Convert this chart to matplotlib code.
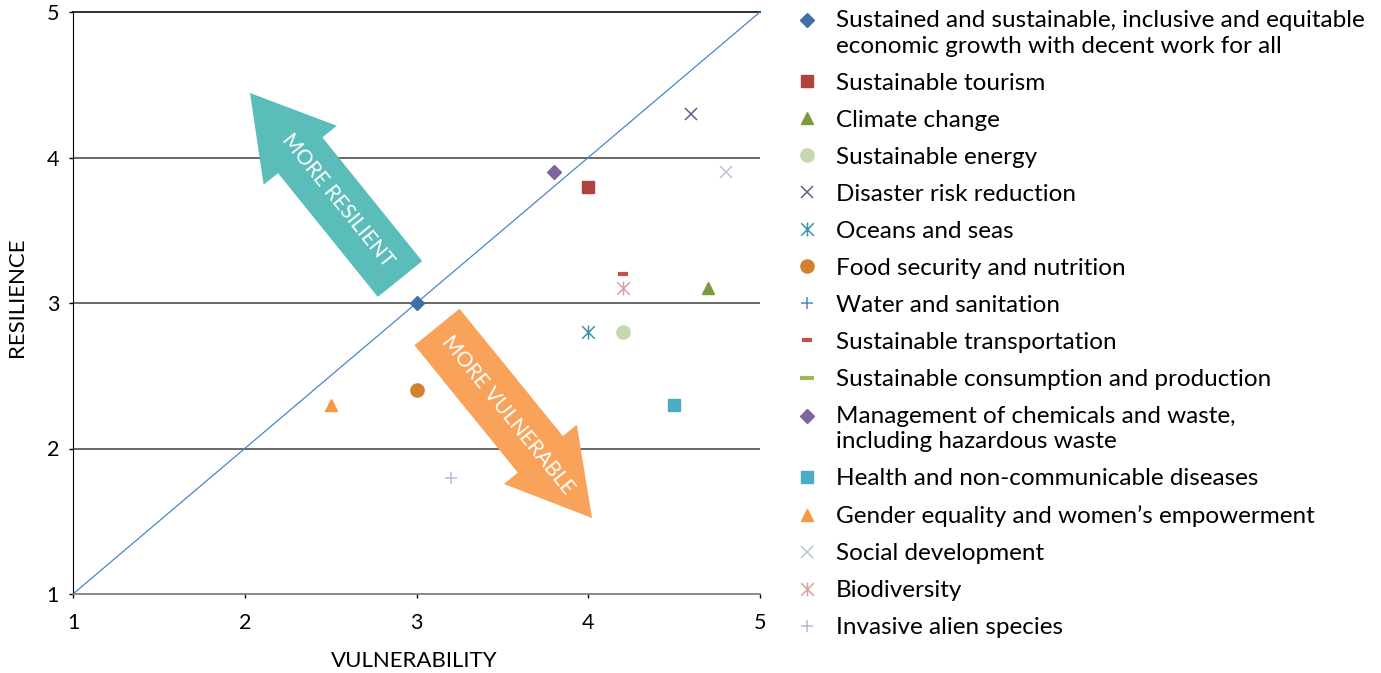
import matplotlib.pyplot as plt
from matplotlib.patches import Polygon
from matplotlib.path import Path
from matplotlib.legend_handler import HandlerLine2D
from matplotlib.transforms import Affine2D
import numpy as np

plt.rcParams['font.family'] = ['Lato', 'DejaVu Sans']

# Дані: (вразливість, стійкість) для кожної теми
labels = [
    "Sustained and sustainable, inclusive and equitable\neconomic growth with decent work for all",
    "Sustainable tourism",
    "Climate change",
    "Sustainable energy",
    "Disaster risk reduction",
    "Oceans and seas",
    "Food security and nutrition",
    "Water and sanitation",
    "Sustainable transportation",
    "Sustainable consumption and production",
    "Management of chemicals and waste,\nincluding hazardous waste",
    "Health and non-communicable diseases",
    "Gender equality and women\u2019s empowerment",
    "Social development",
    "Biodiversity",
    "Invasive alien species",
]
vulnerability = [[3.0], [4.0], [4.7], [4.2], [4.6], [4.0], [3.0], [], [4.2], [], [3.8], [4.5], [2.5], [4.8], [4.2], [3.2]]
resilience = [[3.0], [3.8], [3.1], [2.8], [4.3], [2.8], [2.4], [], [3.2], [], [3.9], [2.3], [2.3], [3.9], [3.1], [1.8]]

# зірочка як в Excel: хрестик + вертикальна риска
star = Path([(-1, -1), (1, 1), (-1, 1), (1, -1), (0, -1.1), (0, 1.1)],
            [Path.MOVETO, Path.LINETO, Path.MOVETO, Path.LINETO, Path.MOVETO, Path.LINETO])

markers = ['D', 's', '^', 'o', 'x', star, 'o', '+', '_', '_', 'D', 's', '^', 'x', star, '+']
colors = ['#3F6EA8', '#B0413E', '#7E9A41', '#C6D8AE', '#6F5490', '#3C93B0', '#D2822F', '#4A86C8',
          '#C9504A', '#9BBB59', '#8064A2', '#4BACC6', '#F79646', '#B9C3E0', '#D9A0A0', '#BDB6D3']
sizes = [7, 9, 9, 9.5, 9, 10, 9.5, 9, 7, 10, 7, 9, 9, 9, 10, 9]


# маркер легенди на рівні першого рядка для двохрядкових підписів
class TopLineHandler(HandlerLine2D):
    def __init__(self, dy, **kw):
        super().__init__(**kw)
        self.dy = dy

    def create_artists(self, legend, orig_handle, xdescent, ydescent, width, height, fontsize, trans):
        trans = Affine2D().translate(0, self.dy) + trans
        return super().create_artists(legend, orig_handle, xdescent, ydescent, width, height,
                                      fontsize, trans)


fig = plt.figure(figsize=(13.81, 6.73), dpi=100)
ax = fig.add_axes([73 / 1381, 79 / 673, 687 / 1381, 582 / 673])

ax.set_xlim(1, 5)
ax.set_ylim(1, 5)
ax.set_xticks([1, 2, 3, 4, 5])
ax.set_yticks([1, 2, 3, 4, 5])
ax.tick_params(labelsize=15.5, length=3, width=1, colors='#000000', pad=11)
ax.tick_params(axis='y', pad=7)
for y in [2, 3, 4]:
    ax.axhline(y, color='#404040', lw=1.1, zorder=1)
ax.axhline(5, color='#202020', lw=1.3, zorder=1, clip_on=False)
ax.spines['top'].set_visible(False)
ax.spines['right'].set_visible(False)
ax.spines['left'].set_color('#000000')
ax.spines['bottom'].set_color('#808080')
ax.spines['bottom'].set_linewidth(1.3)

ax.plot([1, 5], [1, 5], color='#4A86C8', lw=0.9, zorder=2)

# Стрілки в піксельних координатах
def arrow_poly(tail, tip, shaft_w, head_w, head_len):
    tail = np.array(tail, float)
    tip = np.array(tip, float)
    d = tip - tail
    L = np.hypot(*d)
    u = d / L
    n = np.array([-u[1], u[0]])
    base = tip - u * head_len
    pts = [tail + n * shaft_w / 2, base + n * shaft_w / 2, base + n * head_w / 2, tip,
           base - n * head_w / 2, base - n * shaft_w / 2, tail - n * shaft_w / 2]
    return [(p[0], 673 - p[1]) for p in pts]

teal = Polygon(arrow_poly((400, 279), (250, 93), 57, 94, 80), closed=True, transform=None,
               facecolor='#5BBDBA', edgecolor='none', zorder=3)
orange = Polygon(arrow_poly((437, 327), (592, 518), 58, 94, 82), closed=True, transform=None,
                 facecolor='#F8A25A', edgecolor='none', zorder=3)
fig.patches.extend([teal, orange])
fig.text(338 / 1381, 1 - 200 / 673, "MORE RESILIENT", rotation=-51, color='white', fontsize=15,
         ha='center', va='center', rotation_mode='anchor', zorder=4)
fig.text(508 / 1381, 1 - 415 / 673, "MORE VULNERABLE", rotation=-51, color='white', fontsize=15,
         ha='center', va='center', rotation_mode='anchor', zorder=4)

handles = []
handler_map = {}
for i in range(len(labels)):
    mk = markers[i]
    lw = 1.1 if (mk in ('x', '+') or mk is star) else 3 if mk == '_' else 1
    fc = 'none' if mk is star else colors[i]
    h, = ax.plot(vulnerability[i], resilience[i], linestyle='none', marker=mk, color=colors[i],
                 markerfacecolor=fc, markersize=sizes[i], markeredgewidth=lw, zorder=5, label=labels[i])
    handles.append(h)
    if '\n' in labels[i]:
        handler_map[h] = TopLineHandler(9.5)

ax.set_xlabel("VULNERABILITY", fontsize=16)
ax.set_ylabel("RESILIENCE", fontsize=16)
ax.xaxis.set_label_coords((414 - 73) / 687, (594 - 661) / 582)
ax.yaxis.set_label_coords((17 - 73) / 687, (594 - 297) / 582)
ax.xaxis.label.set_va('center')
ax.yaxis.label.set_va('center')

leg = fig.legend(handles=handles, loc='upper left', bbox_to_anchor=(788 / 1381, 1 - 3 / 673),
                 frameon=False, fontsize=17.5, labelspacing=0.66, handlelength=1.0,
                 handletextpad=0.66, borderaxespad=0, borderpad=0.3, markerscale=1.0,
                 handler_map=handler_map)
for t in leg.get_texts():
    t.set_linespacing(1.25)

fig.savefig('out.png', dpi=100)
